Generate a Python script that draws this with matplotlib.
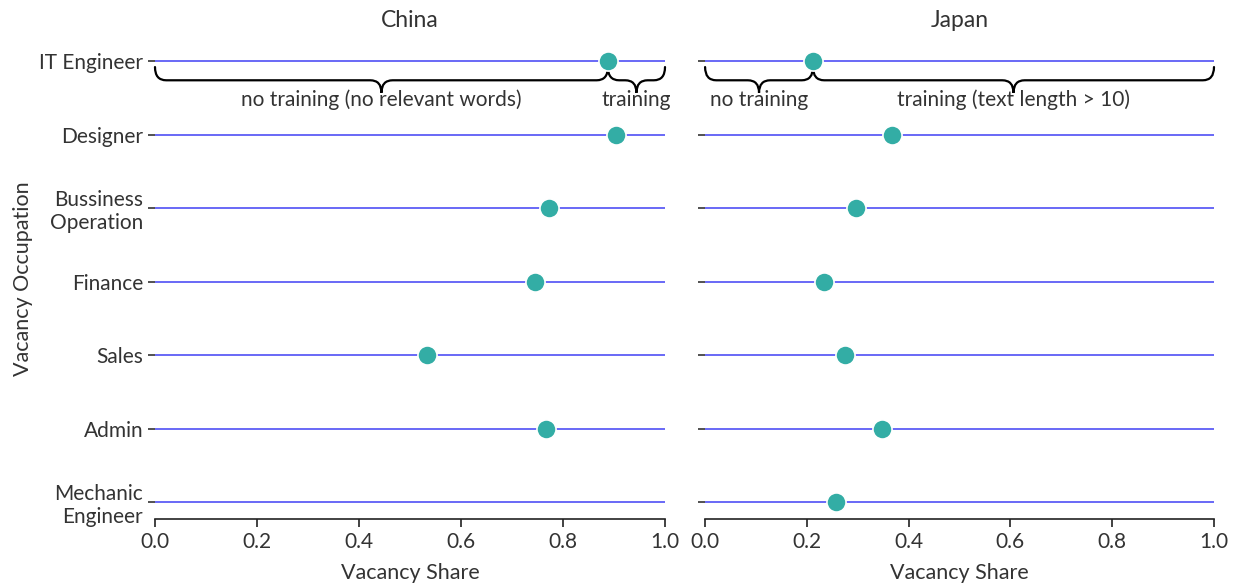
import matplotlib
matplotlib.use('Agg')
from matplotlib import pyplot as plt
from matplotlib.path import Path
from matplotlib.patches import PathPatch
import numpy as np

plt.rcParams['font.family'] = ['Lato', 'DejaVu Sans']

occupations = ['IT Engineer', 'Designer', 'Bussiness\nOperation', 'Finance',
               'Sales', 'Admin', 'Mechanic\nEngineer']
china_share = [0.888, 0.904, 0.773, 0.745, 0.533, 0.767, np.nan]
japan_share = [0.212, 0.367, 0.297, 0.234, 0.275, 0.348, 0.257]

china_braces = [(0.0, 0.888, 'no training (no relevant words)'),
                (0.888, 1.0, 'training')]
japan_braces = [(0.0, 0.212, 'no training'),
                (0.212, 1.0, 'training (text length > 10)')]

text_col = '#333333'
line_col = '#4f4ff5'
dot_col = '#33ada5'


def brace(ax, x0, x1, label, top=0.08, mid=0.26, tip=0.43, r=0.022):
    xm = (x0 + x1) / 2
    verts = [(x0, top), (x0, mid), (x0 + r, mid),
             (xm - r, mid), (xm, mid), (xm, tip),
             (xm, mid), (xm + r, mid),
             (x1 - r, mid), (x1, mid), (x1, top)]
    codes = [Path.MOVETO, Path.CURVE3, Path.CURVE3,
             Path.LINETO, Path.CURVE3, Path.CURVE3,
             Path.CURVE3, Path.CURVE3,
             Path.LINETO, Path.CURVE3, Path.CURVE3]
    ax.add_patch(PathPatch(Path(verts, codes), fill=False, lw=1.6,
                           color='black', clip_on=False, capstyle='round'))
    ax.text(xm, 0.53, label, ha='center', va='center', fontsize=15,
            color=text_col)


fig = plt.figure(figsize=(12.37, 5.84), dpi=100)
ax1 = fig.add_axes([0.1253, 0.111, 0.4123, 0.822])
ax2 = fig.add_axes([0.570, 0.111, 0.4114, 0.822], sharey=ax1)

ypos = np.arange(len(occupations))
for ax, vals, title, braces in [(ax1, china_share, 'China', china_braces),
                                (ax2, japan_share, 'Japan', japan_braces)]:
    for y in ypos:
        ax.plot([0, 1], [y, y], color=line_col, lw=1.2, zorder=1)
    ax.scatter(vals, ypos, s=190, color=dot_col, edgecolor='white',
               linewidth=1.2, zorder=3)
    for x0, x1, lab in braces:
        brace(ax, x0, x1, lab)
    ax.set_xlim(0, 1)
    ax.set_xticks(np.arange(0, 1.01, 0.2))
    ax.set_xticklabels([f'{v:.1f}' for v in np.arange(0, 1.01, 0.2)])
    ax.set_title(title, fontsize=16.5, color=text_col, pad=9)
    ax.set_xlabel('Vacancy Share', fontsize=15.5, color=text_col, labelpad=8)
    for s in ['top', 'right', 'left']:
        ax.spines[s].set_visible(False)
    ax.spines['bottom'].set_color('#222222')
    ax.spines['bottom'].set_linewidth(1.2)
    ax.tick_params(axis='x', labelsize=15, colors=text_col, length=6,
                   width=1.2, color='#222222')
    ax.tick_params(axis='y', labelsize=15, colors=text_col, length=5,
                   width=1.2, color='#333333')

ax1.set_yticks(ypos)
ax1.set_yticklabels(occupations, linespacing=1.15)
ax1.set_ylim(6 + 17 / 73.5, -0.3)
ax2.tick_params(axis='y', labelleft=False)
ax1.set_ylabel('Vacancy Occupation', fontsize=15.5, color=text_col)
ax1.yaxis.set_label_coords(-0.24, 0.5)

fig.savefig('out.png', dpi=100)
